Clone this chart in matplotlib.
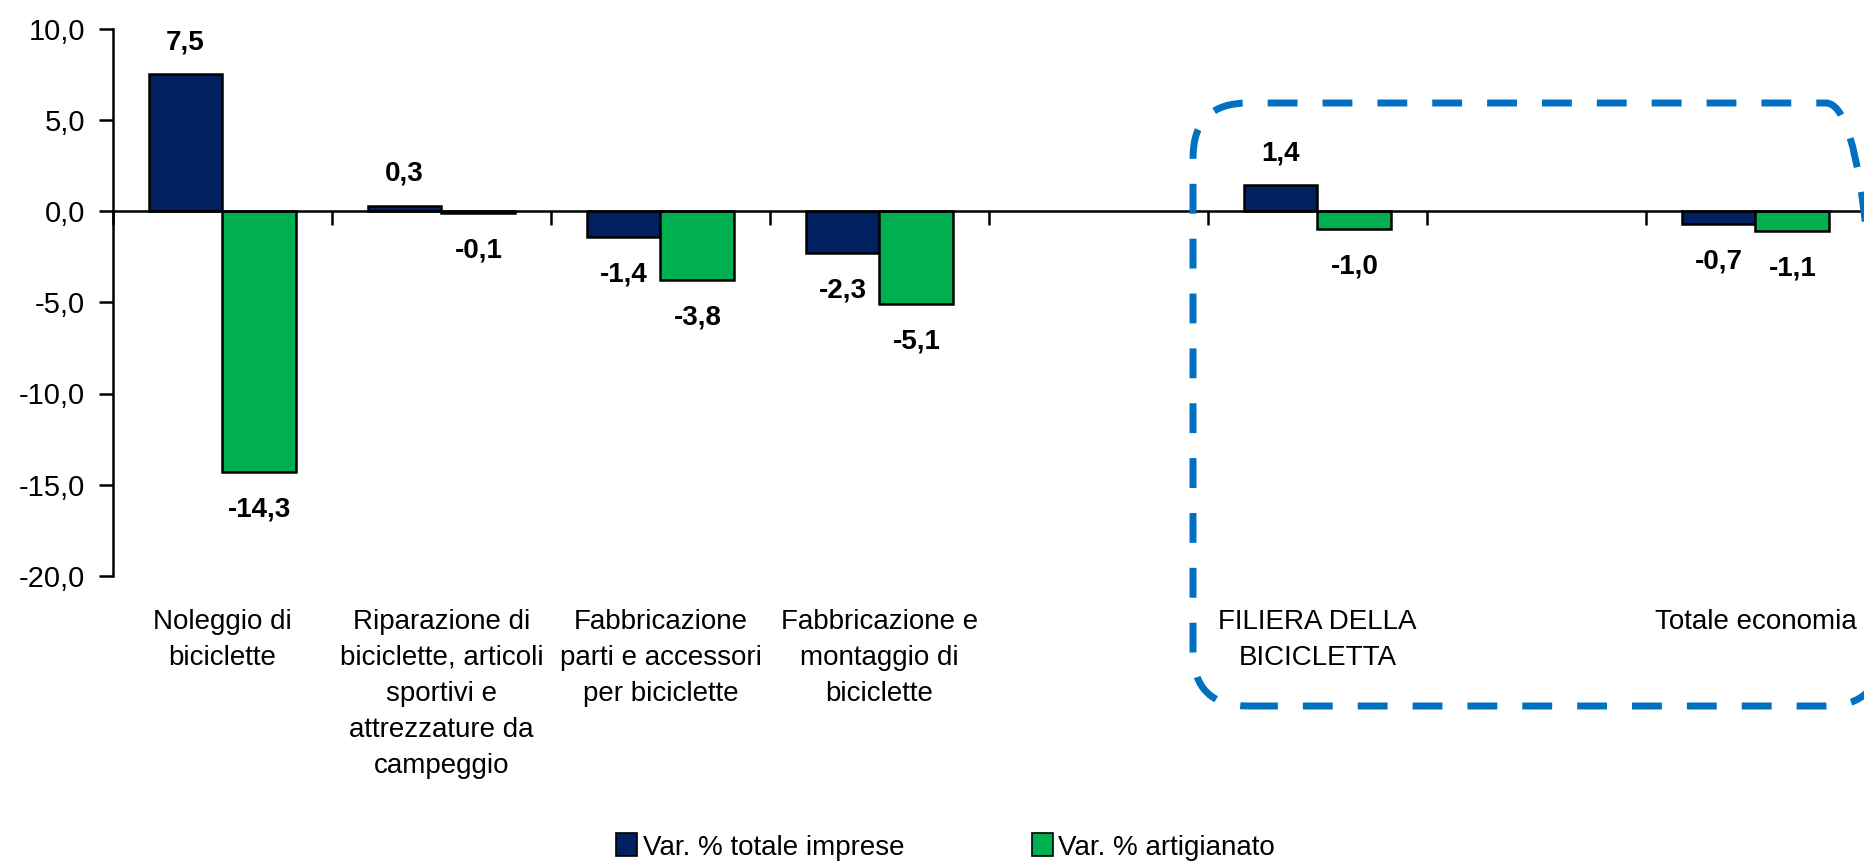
import matplotlib
matplotlib.use('Agg')
from matplotlib import pyplot as plt
from matplotlib.patches import FancyBboxPatch, Patch
from matplotlib.transforms import IdentityTransform
import numpy as np

plt.rcParams['font.family'] = ['Liberation Sans', 'DejaVu Sans']

categories = [
    'Noleggio di\nbiciclette',
    'Riparazione di\nbiciclette, articoli\nsportivi e\nattrezzature da\ncampeggio',
    'Fabbricazione\nparti e accessori\nper biciclette',
    'Fabbricazione e\nmontaggio di\nbiciclette',
    'FILIERA DELLA\nBICICLETTA',
    'Totale economia',
]
# slot index of each category (slots 4 and 6 are left empty)
slots = [0, 1, 2, 3, 5, 7]
totale_imprese = [7.5, 0.3, -1.4, -2.3, 1.4, -0.7]
artigianato = [-14.3, -0.1, -3.8, -5.1, -1.0, -1.1]
series_names = ['Var. % totale imprese', 'Var. % artigianato']
yticks = [-20, -15, -10, -5, 0, 5, 10]

navy = '#002060'
green = '#00B050'

W, H = 1865, 866
fig = plt.figure(figsize=(W / 100, H / 100), dpi=100)
ax = fig.add_axes([113 / W, 1 - 576 / H, 1 - 113 / W, (576 - 28.5) / H])

x = np.array(slots) + 0.5
w = 0.337
b1 = ax.bar(x - w / 2, totale_imprese, w, color=navy, edgecolor='black', linewidth=1.8)
b2 = ax.bar(x + w / 2, artigianato, w, color=green, edgecolor='black', linewidth=1.8)

for bars, vals in ((b1, totale_imprese), (b2, artigianato)):
    for bar, v in zip(bars, vals):
        cx = bar.get_x() + bar.get_width() / 2
        off = 23 if v >= 0 else -27
        ax.annotate(f'{v:.1f}'.replace('.', ','), (cx, v), xytext=(0, off),
                    textcoords='offset points', ha='center', va='center',
                    fontsize=20, fontweight='bold')

ax.set_xlim(0, 8)
ax.set_ylim(-20, 10)
ax.set_yticks(yticks)
ax.set_yticklabels([f'{t:.1f}'.replace('.', ',') for t in yticks], fontsize=21)
ax.tick_params(axis='y', direction='out', length=10, width=1.8, pad=10)

ax.spines['top'].set_visible(False)
ax.spines['right'].set_visible(False)
ax.spines['left'].set_linewidth(1.8)
ax.spines['bottom'].set_position(('data', 0))
ax.spines['bottom'].set_linewidth(1.8)
ax.set_xticks(np.arange(0, 9))
ax.set_xticklabels([])
ax.tick_params(axis='x', direction='out', length=10, width=1.8)

trans = ax.get_xaxis_transform()
for s, lab in zip(slots, categories):
    ax.text(s + 0.5, -0.06, lab, transform=trans, ha='center', va='top',
            fontsize=20, linespacing=1.5)

# dashed rounded box around the aggregates (pixel coords)
box = FancyBboxPatch((1193, H - 706), 1881 - 1193, 706 - 103,
                     boxstyle='round,pad=0,rounding_size=55', transform=IdentityTransform(),
                     fill=False, edgecolor='#0070C0', linewidth=5,
                     linestyle=(0, (4.3, 3.6)), clip_on=False)
fig.add_artist(box)

handles = [Patch(facecolor=navy, edgecolor='black', linewidth=1.2),
           Patch(facecolor=green, edgecolor='black', linewidth=1.2)]
fig.legend(handles, series_names, loc='center', bbox_to_anchor=(0.507, 0.022), ncol=2,
           frameon=False, fontsize=20, handlelength=0.75, handleheight=0.9,
           handletextpad=0.2, columnspacing=4.6)

fig.savefig('out.png', dpi=100)
